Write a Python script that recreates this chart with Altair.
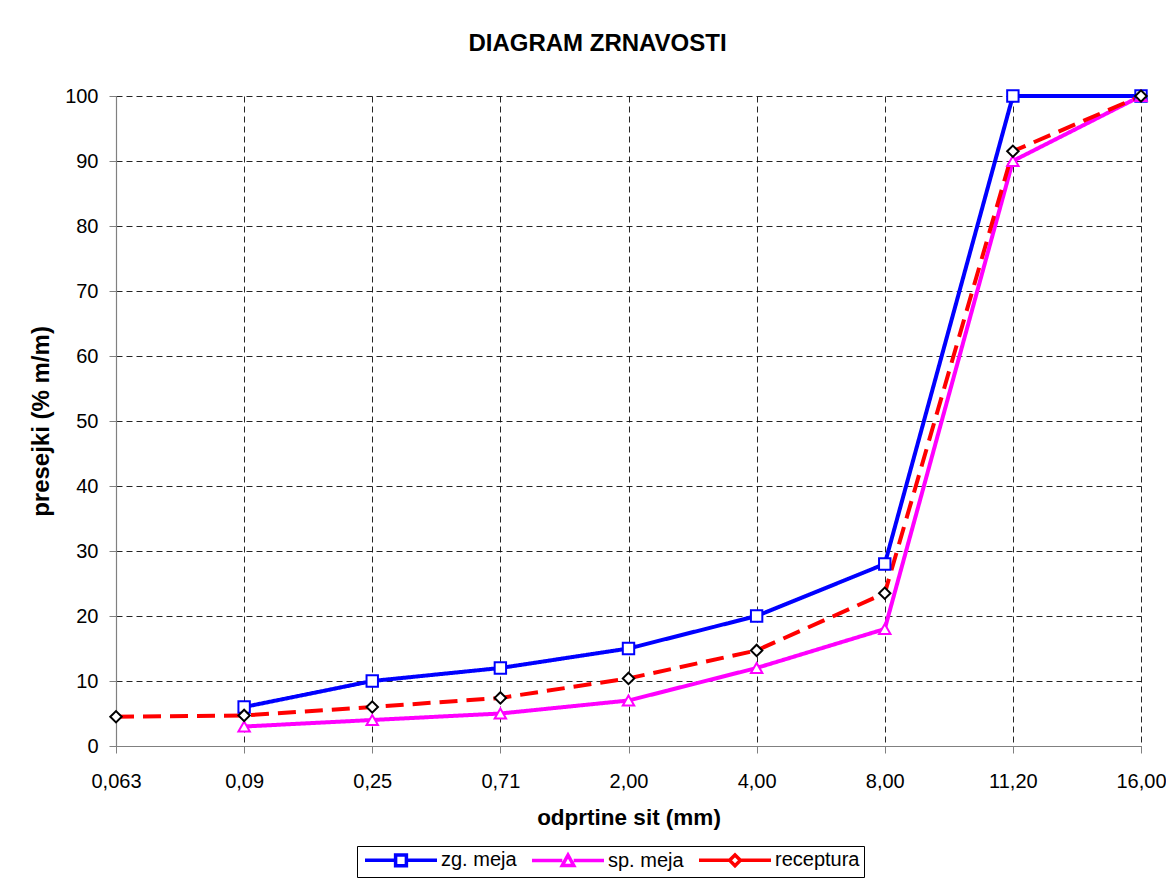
import altair as alt
import pandas as pd

sieves = ["0,063", "0,09", "0,25", "0,71", "2,00", "4,00", "8,00", "11,20", "16,00"]
zg_meja = [None, 6, 10, 12, 15, 20, 28, 100, 100]
sp_meja = [None, 3, 4, 5, 7, 12, 18, 90, 100]
receptura = [4.5, 4.7, 6.0, 7.4, 10.4, 14.7, 23.5, 91.5, 100]

series_names = ["zg. meja", "sp. meja", "receptura"]
series_values = [zg_meja, sp_meja, receptura]

line_colors = ["#0000FF", "#FF00FF", "#FF0000"]
marker_colors = ["#0000FF", "#FF00FF", "#000000"]
dashes = [[1, 0], [1, 0], [18, 9]]
marker_shapes = ["square", "triangle-up", "diamond"]
legend_shapes = [
    "M-6,0H-0.9M0.9,0H6M-0.9,-0.9H0.9V0.9H-0.9Z",
    "M-6,0H-0.95M0.95,0H6M-0.95,0.8L0,-0.9L0.95,0.8Z",
    "M-6,0H-0.95M0.95,0H6M-0.9,0L0,-0.9L0.9,0L0,0.9Z",
]

rows = []
for name, vals in zip(series_names, series_values):
    for s, v in zip(sieves, vals):
        if v is not None:
            rows.append({"sieve": s, "value": v, "series": name,
                         "order": series_names.index(name)})
df = pd.DataFrame(rows)

FONT = "Liberation Sans"

x_enc = alt.X(
    "sieve:O", sort=sieves,
    scale=alt.Scale(type="point", padding=0),
    axis=alt.Axis(title="odprtine sit (mm)", labelAngle=0, labelPadding=18,
                  titlePadding=15, grid=True, titleFontSize=22.5),
)
y_enc = alt.Y(
    "value:Q",
    scale=alt.Scale(domain=[0, 100], nice=False),
    axis=alt.Axis(title="presejki (% m/m)", values=list(range(0, 101, 10)),
                  labelPadding=11, titlePadding=11, titleFontSize=24),
)

base = alt.Chart(df)

lines = base.mark_line(strokeWidth=4).encode(
    x=x_enc, y=y_enc,
    stroke=alt.Stroke("series:N", scale=alt.Scale(domain=series_names, range=line_colors), legend=None),
    strokeDash=alt.StrokeDash("series:N", scale=alt.Scale(domain=series_names, range=dashes), legend=None),
    order=alt.Order("order:Q"),
)

points = base.mark_point(filled=False, fill="white", fillOpacity=1, opacity=1,
                         size=130, strokeWidth=2).encode(
    x=x_enc, y=y_enc,
    color=alt.Color("series:N", scale=alt.Scale(domain=series_names, range=marker_colors), legend=None),
    shape=alt.Shape("series:N", scale=alt.Scale(domain=series_names, range=marker_shapes), legend=None),
)

leg = alt.Legend(
    title=None, orient="none", direction="horizontal", legendX=241, legendY=750,
    strokeColor="black", fillColor="white", padding=4, symbolSize=144,
    symbolOffset=30, symbolStrokeWidth=3.5, symbolFillColor="white",
    labelFontSize=20, labelFont=FONT, labelColor="black", labelOffset=30,
    columnPadding=8, symbolOpacity=1,
)

legend_layer = base.mark_point(filled=False, fill="white", opacity=1).encode(
    x=x_enc, y=y_enc,
    color=alt.Color("series:N", scale=alt.Scale(domain=series_names, range=line_colors), legend=leg),
    shape=alt.Shape("series:N", scale=alt.Scale(domain=series_names, range=legend_shapes), legend=leg),
).transform_filter("false")

chart = alt.layer(lines, points, legend_layer).resolve_scale(
    color="independent", shape="independent"
).properties(
    width=1025, height=650,
    background="white",
    title=alt.Title("DIAGRAM ZRNAVOSTI", fontSize=24, fontWeight="bold", font=FONT,
                    color="black", offset=30, dx=-31, anchor="middle"),
    autosize=alt.AutoSizeParams(type="none"),
    padding={"left": 108, "top": 88, "right": 25, "bottom": 137},
).configure_axis(
    labelFont=FONT, labelFontSize=20, labelColor="black",
    titleFont=FONT, titleFontWeight="bold", titleColor="black",
    domainColor="#808080", domainWidth=1.2, tickColor="#808080", tickSize=7,
    gridColor="black", gridDash=[6, 4], gridWidth=1, gridOpacity=0.85,
).configure_view(stroke=None)

chart.save("out.html", embed_options={"renderer": "svg", "actions": False})
